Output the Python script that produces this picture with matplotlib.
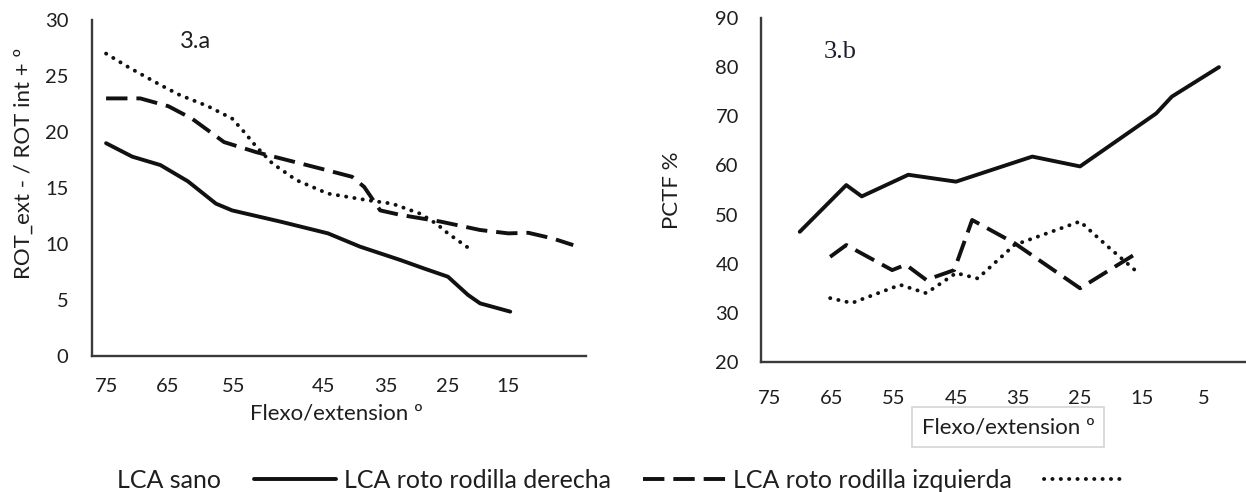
import matplotlib
matplotlib.use("Agg")
import matplotlib.pyplot as plt
from matplotlib.lines import Line2D

plt.rcParams['font.family'] = ['Lato', 'DejaVu Sans']

W, H = 1246, 492

# ---------------- data ----------------
# Panel 3.a  (x in degrees of flexo/extension, y = ROT_ext - / ROT int + º)
a_sano_x = [75, 71.1, 66.9, 62.8, 58.6, 56.2, 49.0, 41.9, 37.1, 31.1, 27.5, 24.0, 21.0, 19.2, 14.7]
a_sano_y = [19.0, 17.8, 17.05, 15.6, 13.6, 13.0, 12.0, 10.95, 9.76, 8.57, 7.8, 7.08, 5.45, 4.7, 3.96]

a_der_x = [75, 69.9, 65.7, 62.2, 57.4, 52.6, 49.0, 43.1, 38.3, 36.5, 34.1, 31.1, 25.1, 19.2, 15.0, 12.0, 8.4, 5.3]
a_der_y = [23, 23, 22.3, 21.2, 19.1, 18.2, 17.65, 16.75, 16.0, 15.1, 13.0, 12.6, 12.0, 11.25, 10.95, 11.0, 10.5, 9.9]

a_izq_x = [75, 71.7, 66.9, 64.0, 59.8, 56.2, 54.4, 52.6, 50.2, 46.6, 41.9, 35.9, 32.3, 28.1, 25.7, 24.0, 20.5]
a_izq_y = [27.0, 25.8, 24.2, 23.3, 22.3, 21.2, 20.0, 18.7, 17.2, 15.7, 14.5, 13.9, 13.6, 12.7, 11.8, 10.95, 9.46]

a_tick_pos = [75, 65.75, 56.0, 42.5, 33.2, 24.1, 15.0]
a_tick_lab = ["75", "65", "55", "45", "35", "25", "15"]
a_yticks = [0, 5, 10, 15, 20, 25, 30]

# Panel 3.b  (x in degrees, y = PCTF %)
b_sano_x = [70.2, 62.7, 60.2, 52.7, 45.0, 32.7, 25.0, 12.7, 10.2, 2.6]
b_sano_y = [46.5, 56.0, 53.7, 58.1, 56.7, 61.8, 59.8, 70.6, 74.0, 80.0]

b_der_x = [65.3, 62.7, 55.3, 53.1, 49.8, 45.3, 42.4, 35.6, 25.0, 16.3]
b_der_y = [41.4, 43.8, 38.7, 39.8, 36.7, 38.7, 48.9, 44.2, 35.0, 41.8]

b_izq_x = [65.3, 61.8, 54.0, 49.8, 45.0, 41.5, 35.6, 25.0, 20.8, 15.6]
b_izq_y = [33.0, 32.0, 35.7, 34.0, 38.1, 37.0, 43.8, 48.6, 43.8, 38.1]

b_tick_pos = [75, 65, 55, 45, 35, 25, 15, 5]
b_tick_lab = ["75", "65", "55", "45", "35", "25", "15", "5"]
b_yticks = [20, 30, 40, 50, 60, 70, 80, 90]

labels = ["LCA sano", "LCA roto rodilla derecha", "LCA roto rodilla izquierda"]

# ---------------- styles ----------------
INK = '#111111'
TXT = '#1e1e1e'
LW = 2.8
sty_solid = dict(color=INK, lw=LW, solid_capstyle='round', solid_joinstyle='round')
sty_dash = dict(color=INK, lw=LW, linestyle=(0, (5.5, 2.3)), dash_capstyle='butt')
sty_dot = dict(color=INK, lw=LW, linestyle=(0, (0.05, 2.1)), dash_capstyle='round')


def fx(px):
    return px / W


def fy(py):
    return 1 - py / H


fig = plt.figure(figsize=(W / 100, H / 100), dpi=100)

# axes rectangles in pixel coordinates
axA = fig.add_axes([fx(92), fy(356), (586 - 92) / W, (356 - 20) / H])
axB = fig.add_axes([fx(761), fy(362), (1245 - 761) / W, (362 - 18) / H])

for ax in (axA, axB):
    for s in ('top', 'right'):
        ax.spines[s].set_visible(False)
    for s in ('left', 'bottom'):
        ax.spines[s].set_color('#3a3a3a')
        ax.spines[s].set_linewidth(1.7)
    ax.tick_params(length=0, labelsize=14.5, colors=TXT)
    ax.set_facecolor('none')

# Panel a
axA.plot(a_sano_x, a_sano_y, **sty_solid)
axA.plot(a_der_x, a_der_y, **sty_dash)
axA.plot(a_izq_x, a_izq_y, **sty_dot)
axA.set_xlim(77.1, 3.4)
axA.set_ylim(0, 30)
axA.set_xticks(a_tick_pos)
axA.set_xticklabels(a_tick_lab)
axA.set_yticks(a_yticks)
axA.tick_params(axis='x', pad=16)
axA.tick_params(axis='y', pad=17)
axA.text(0.21, 0.935, "3.a", transform=axA.transAxes, fontsize=17,
         ha='center', va='center', color=TXT)

# Panel b
axB.plot(b_sano_x, b_sano_y, **sty_solid)
axB.plot(b_der_x, b_der_y, **sty_dash)
axB.plot(b_izq_x, b_izq_y, **sty_dot)
axB.set_xlim(76.45, -1.6)
axB.set_ylim(20, 90)
axB.set_xticks(b_tick_pos)
axB.set_xticklabels(b_tick_lab)
axB.set_yticks(b_yticks)
axB.tick_params(axis='x', pad=20)
axB.tick_params(axis='y', pad=16)
axB.text(0.163, 0.90, "3.b", transform=axB.transAxes, fontsize=19,
         family='Liberation Serif', ha='center', va='center', color='#1c1c2a')

# axis titles
fig.text(fx(24), fy(163), "ROT_ext - / ROT int + º", rotation=90,
         ha='center', va='center', fontsize=16, color=TXT)
fig.text(fx(336), fy(413), "Flexo/extension º", ha='center', va='center',
         fontsize=16, color=TXT)
fig.text(fx(672), fy(190), "PCTF %", rotation=90, ha='center', va='center',
         fontsize=16, color=TXT)
fig.text(fx(1008), fy(427), "Flexo/extension º", ha='center', va='center',
         fontsize=16, color=TXT,
         bbox=dict(boxstyle='square,pad=0.45', fc='white', ec='#d4d4d4', lw=1.2))

# legend (label first, then line sample)
handles = [Line2D([], [], **sty_solid),
           Line2D([], [], **sty_dash),
           Line2D([], [], **sty_dot)]
fig.legend(handles, labels, loc='center', bbox_to_anchor=(fx(622), fy(480)),
           ncol=3, frameon=False, markerfirst=False, fontsize=18,
           handlelength=3.3, handletextpad=1.3, columnspacing=0.3,
           labelcolor=TXT, borderaxespad=0, borderpad=0)

fig.savefig("out.png", dpi=100, facecolor='white')
